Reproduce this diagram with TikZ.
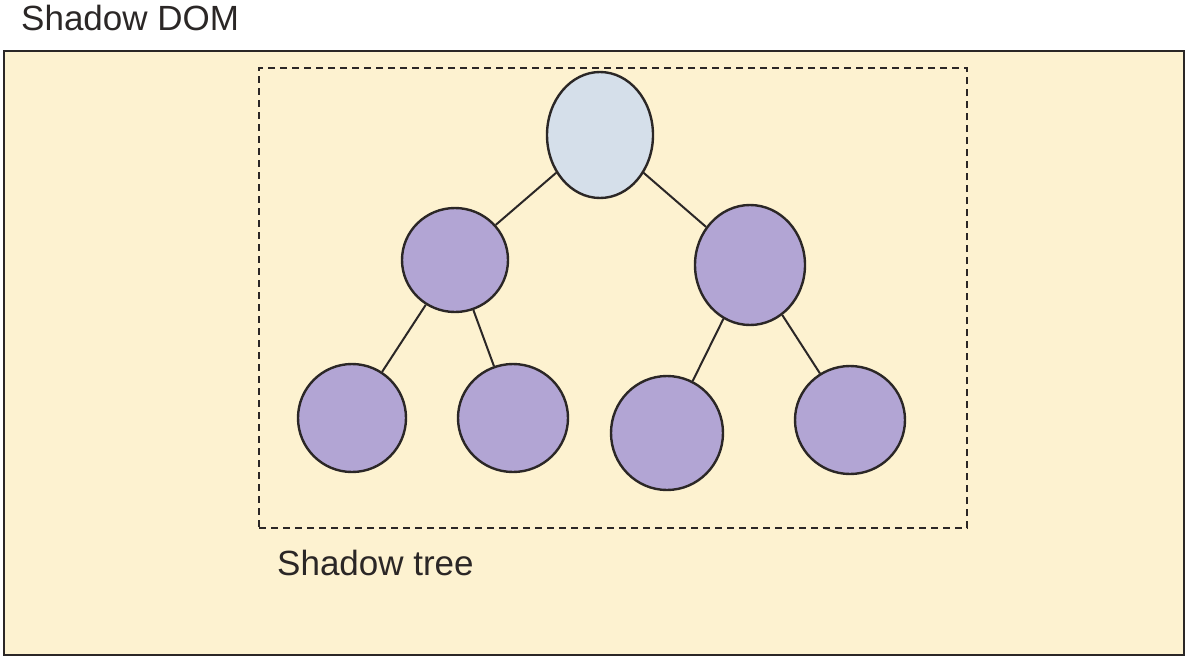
\documentclass[tikz,border=0pt]{standalone}
\usepackage{fontspec}
\setmainfont{Liberation Sans}
\usetikzlibrary{shapes.geometric}
\definecolor{bg}{HTML}{FDF2D0}
\definecolor{rootc}{HTML}{D5DFEA}
\definecolor{leafc}{HTML}{B2A5D4}
\definecolor{ink}{HTML}{2B2726}
\tikzset{
  treenode/.style={ellipse, draw=ink, line width=2.4pt, inner sep=0pt, fill=leafc},
  edge/.style={draw=ink, line width=2pt},
  lbl/.style={font=\fontsize{35}{40}\selectfont, text=ink, anchor=base west, inner sep=0pt}
}
\begin{document}
\begin{tikzpicture}[x=1pt,y=-1pt]
\useasboundingbox (0,0) rectangle (1185,656);
\node[lbl] (title) at (21,30) {Shadow DOM};
\node[draw=ink, line width=2.4pt, fill=bg, minimum width=1180pt, minimum height=604pt, anchor=north west, inner sep=0pt] (dom) at (3,50) {};
\node[draw=ink, dashed, dash pattern=on 7pt off 5pt, line width=2pt, minimum width=708pt, minimum height=460pt, anchor=north west, inner sep=0pt] (tree) at (258,67) {};
\node[lbl] (treelbl) at (277,575) {Shadow tree};
\node[treenode, fill=rootc, minimum width=106pt, minimum height=126pt] (r) at (600,135) {};
\node[treenode, minimum width=106pt, minimum height=104pt] (a) at (455,260) {};
\node[treenode, minimum width=110pt, minimum height=120pt] (b) at (750,265) {};
\node[treenode, minimum width=108pt, minimum height=108pt] (a1) at (352,418) {};
\node[treenode, minimum width=110pt, minimum height=108pt] (a2) at (513,418) {};
\node[treenode, minimum width=112pt, minimum height=114pt] (b1) at (667,433) {};
\node[treenode, minimum width=110pt, minimum height=108pt] (b2) at (850,420) {};
\draw[edge] (r) -- (a);
\draw[edge] (r) -- (b);
\draw[edge] (a) -- (a1);
\draw[edge] (a) -- (a2);
\draw[edge] (b) -- (b1);
\draw[edge] (b) -- (b2);
\end{tikzpicture}
\end{document}
